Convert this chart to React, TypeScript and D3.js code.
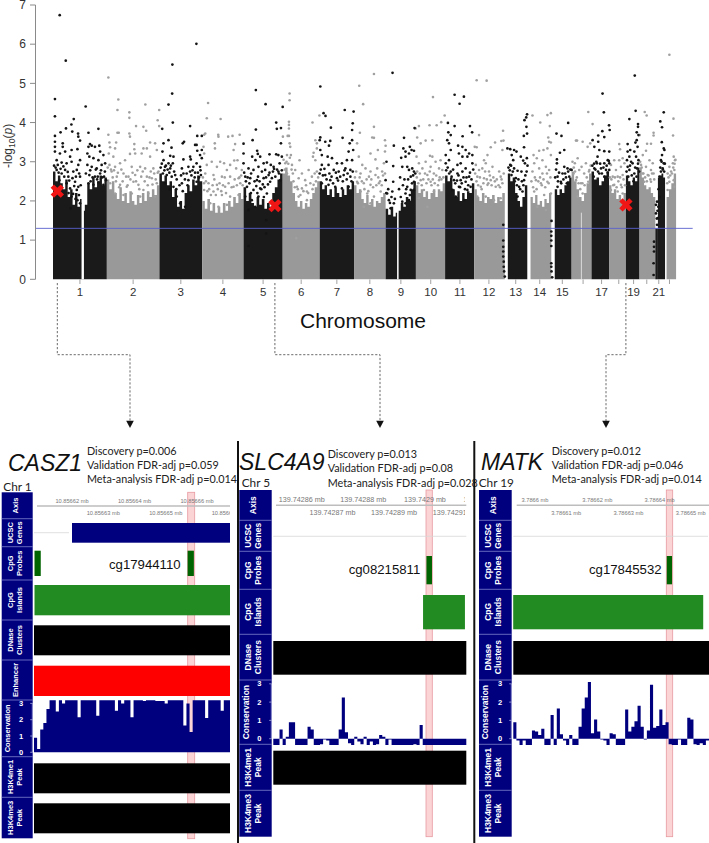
import React from "react";
import * as d3 from "d3";

// ---------- Manhattan data ----------
const chromLabels = ["1","2","3","4","5","6","7","8","9","10","11","12","13","14","15","","17","","19","","21",""];
const chromLengths = [249,243,198,191,181,171,159,146,141,135,135,133,115,107,102,90,81,78,59,63,48,51];
const yTicks = [0,1,2,3,4,5,6,7];
const threshold = 1.3;

// solid part of each chromosome: [start Mb, end Mb, black?]
const solidSpans: [number, number, number][] = [
  [0,249,1],[249,492,0],[492,690,1],[690,881,0],[881,1062,1],[1062,1233,0],[1233,1392,1],[1392,1538,0],
  [1538,1678,1],[1678,1813,0],[1813,1948,1],[1948,2089,0],[2103,2193,1],[2208,2304,0],[2320,2398,1],[2398,2490,0],
  [2490,2571,1],[2571,2649,0],[2649,2712,1],[2712,2785,0],[2797,2830,1],[2837,2881,0],
];
const solidTops: number[][] = [
  [2.75,2.5,2.65,2.45,2.3,2.55,2.1,2.3,1.9,2.2,1.85,2.05,1.75,1.9,2.45,2.3,2.6,2.35,2.5,2.65,2.4,2.6],
  [2.55,2.3,2.5,2.2,2.05,2.35,2.0,2.2,1.95,2.25,2.0,1.9,2.15,1.95,2.2,2.0,2.25,2.1,2.3,2.15,2.4],
  [2.7,2.5,2.65,2.4,2.5,2.1,2.3,1.85,2.0,1.8,2.2,2.4,2.25,2.55,2.4,2.65,2.5],
  [2.0,1.8,2.05,1.75,1.95,1.7,1.85,1.7,1.95,1.75,2.0,1.85,2.1,1.95,2.2,2.05],
  [2.35,2.0,2.2,1.95,1.85,2.1,1.9,2.05,1.8,1.95,1.85,2.2,2.35,2.55,2.7],
  [2.7,2.85,2.65,2.5,2.2,2.0,1.85,2.0,1.8,1.95,1.85,2.05,2.2,2.35,2.5],
  [2.5,2.3,2.4,2.15,2.3,2.1,2.35,2.2,2.1,2.3,2.15,2.4,2.3,2.5],
  [2.4,2.2,2.3,2.05,1.95,2.15,1.9,2.05,1.85,2.0,1.95,2.1,2.2],
  [1.8,1.65,1.85,1.6,1.7,1.75,1.95,1.85,2.1,2.0,2.3,2.5],
  [2.4,2.2,2.3,2.1,2.25,2.05,2.2,2.3,2.1,2.3,2.25,2.45],
  [2.65,2.5,2.6,2.3,2.1,2.25,2.0,2.2,2.05,2.25,2.2,2.45],
  [2.3,2.1,2.0,2.2,1.95,2.1,2.05,2.15,1.95,2.1,2.0,2.2],
  [2.7,2.5,2.6,2.2,2.0,1.85,2.1,2.4],
  [2.1,1.95,2.15,1.9,2.0,1.85,2.05,1.95,2.2],
  [2.3,2.15,2.3,2.2,2.4,2.5,2.6],
  [2.75,2.5,2.3,2.1,2.0,2.2,2.45,2.7],
  [2.75,2.55,2.6,2.4,2.5,2.65,2.75],
  [2.4,2.2,2.3,2.05,2.15,2.0,2.2],
  [2.65,2.5,2.4,2.6,2.5,2.85],
  [2.85,2.6,2.4,2.3,2.35,2.2,2.1],
  [2.6,2.65,2.7,2.6],
  [2.1,2.3,2.45,2.7],
];
// lower speckled stretches of the black chromosomes: [start Mb, end Mb, top]
const sparseBlack: [number, number, number][] = [[2785,2797,1.3]];
// empty stretches through the solid part: [start Mb, end Mb, top]
const gaps: [number, number, number][] = [[132,143,7],[1591,1598,7],[2441,2444,1.7]];

const blackPoints: [number, number][] = [
  [31,6.74],[59,5.58],[9,4.6],[9,4.16],[151,4.41],[164,3.74],[210,3.84],[96,4.09],[85,3.95],[89,3.77],[60,3.85],[35,3.75],[9,3.66],[116,3.72],[117,3.64],[125,3.54],[9,3.51],
  [9,3.38],[9,3.26],[32,3.21],[45,3.47],[45,3.38],[56,3.26],[86,3.3],[113,3.32],[79,3.13],[17,3.04],[40,2.98],[63,2.96],[86,3.0],[117,2.92],[125,3.04],[17,2.79],[40,2.7],[56,2.79],[71,2.62],[94,2.75],[110,2.79],[125,2.62],[29,2.53],[63,2.45],[79,2.32],[102,2.49],[117,2.36],[86,2.11],[113,2.02],[82,1.81],[125,1.94],[110,2.28],
  [164,3.38],[171,3.45],[194,3.38],[179,3.41],[214,3.41],[159,3.21],[218,3.26],[168,3.13],[187,3.09],[233,3.17],[210,3.04],[159,2.92],[179,2.87],[202,2.83],[225,2.92],[241,2.96],[168,2.66],[194,2.62],[218,2.7],[236,2.62],[245,2.53],[164,2.45],[187,2.41],[210,2.47],[233,2.41],
  [663,6.01],[552,5.48],[551,4.74],[534,4.46],[554,4.0],[505,3.84],[634,3.91],[688,3.66],[667,3.66],[657,3.43],[664,3.43],[534,3.55],[511,3.47],[606,3.51],[600,3.47],[548,3.36],[667,3.28],[688,3.3],[506,3.26],[542,3.15],[557,3.13],[634,3.13],[637,3.06],[680,3.17],[511,3.04],[534,2.96],[554,2.96],[603,3.06],[664,2.96],[688,3.09],[518,2.87],[542,2.83],[596,2.83],[626,2.87],[649,2.87],[680,2.87],[508,2.7],[526,2.66],[549,2.62],[565,2.66],[603,2.7],[634,2.75],[657,2.72],[684,2.66],[518,2.45],[557,2.36],[596,2.45],[626,2.53],[664,2.49],[572,2.11],[588,1.94],[611,1.85],
  [938,4.83],[983,4.47],[1062,4.4],[1032,4.0],[1035,3.84],[1054,3.86],[938,3.82],[923,3.55],[1054,3.47],[881,3.46],[944,3.28],[947,3.2],[1001,3.19],[1032,3.19],[1042,3.17],[1058,3.13],[881,3.21],[921,3.13],[936,3.04],[958,3.13],[974,2.96],[989,2.98],[1007,2.92],[1020,2.87],[1048,2.96],[881,2.96],[904,2.83],[927,2.79],[950,2.87],[966,2.75],[981,2.79],[997,2.66],[1017,2.75],[1042,2.75],[889,2.62],[912,2.58],[943,2.53],[974,2.58],[1004,2.49],[1028,2.62],[1051,2.53],[897,2.36],[927,2.28],[958,2.32],[989,2.19],[889,2.11],[919,2.02],[950,2.11],[904,1.77],[935,1.85],[986,1.51],[904,0.85],[986,1.17],
  [1236,4.92],[1251,4.24],[1260,4.17],[1349,4.32],[1390,4.28],[1285,3.87],[1386,3.98],[1383,3.81],[1236,3.62],[1233,3.55],[1339,3.61],[1282,3.53],[1259,3.51],[1372,3.47],[1276,3.41],[1236,3.3],[1383,3.55],[1367,3.26],[1243,3.17],[1270,3.13],[1290,3.09],[1359,3.04],[1336,2.96],[1313,2.96],[1243,2.92],[1274,2.92],[1298,2.79],[1321,2.75],[1352,2.83],[1375,2.79],[1233,2.7],[1259,2.66],[1282,2.53],[1313,2.58],[1344,2.66],[1375,2.62],[1243,2.45],[1274,2.41],[1305,2.36],[1336,2.32],[1367,2.36],[1388,3.3],[1383,3.04],
  [1570,5.27],[1672,3.86],[1623,3.61],[1576,3.41],[1620,3.34],[1650,3.38],[1669,3.28],[1658,3.3],[1630,3.26],[1646,3.21],[1610,3.1],[1630,3.13],[1573,2.89],[1542,3.0],[1615,2.87],[1638,2.87],[1661,2.83],[1669,2.75],[1646,2.79],[1654,2.62],[1538,2.53],[1573,2.49],[1669,2.49],[1638,2.36],[1654,2.28],[1630,2.19],[1669,2.28],[1615,1.98],[1630,1.94],[1646,2.02],[1545,2.19],[1569,2.24],[1553,2.02],[1576,1.94],[1561,1.81],
  [1857,4.71],[1900,4.66],[1880,4.48],[1826,3.99],[1857,3.91],[1928,3.91],[1938,3.75],[1828,3.75],[1839,3.68],[1894,3.65],[1823,3.55],[1831,3.47],[1873,3.41],[1893,3.38],[1908,3.3],[1924,3.21],[1939,3.17],[1839,3.3],[1816,3.17],[1877,3.21],[1893,3.13],[1916,3.13],[1831,3.04],[1816,2.96],[1870,2.92],[1885,2.96],[1939,2.96],[1908,2.83],[1839,2.75],[1870,2.7],[1893,2.75],[1924,2.62],[1854,2.53],[1885,2.53],[1908,2.49],[1847,2.28],[1877,2.36],[1916,2.28],[1931,2.36],[1862,2.11],[1901,2.02],
  [2082,1.39],[2082,0.99],[2082,0.83],[2082,0.71],[2082,0.58],[2084,0.45],[2084,0.32],[2086,0.2],[2089,0.07],
  [2101,3.34],[2114,3.32],[2132,3.3],[2143,3.26],[2121,3.17],[2114,2.92],[2128,3.04],[2192,4.21],[2188,4.13],[2180,4.06],[2189,3.89],[2192,3.72],[2177,3.66],[2178,3.37],[2163,3.13],[2174,3.03],[2191,3.09],[2182,2.96],[2194,2.9],[2148,2.77],[2166,2.75],[2132,2.83],[2120,2.66],[2140,2.58],[2155,2.36],[2178,2.53],[2171,2.24],[2148,2.11],
  [2305,1.49],[2304,1.22],[2304,1.11],[2304,0.99],[2304,0.85],[2304,0.41],[2304,0.32],[2305,0.2],[2308,0.05],
  [2382,3.99],[2328,3.72],[2351,3.66],[2364,3.3],[2344,3.23],[2330,3.06],[2330,2.96],[2379,2.83],[2364,2.87],[2398,2.79],[2356,2.7],[2333,2.62],[2387,2.62],[2348,2.49],[2376,2.45],[2333,2.36],
  [2541,4.74],[2547,4.26],[2571,3.93],[2574,3.81],[2540,3.78],[2521,3.67],[2549,3.63],[2495,3.55],[2521,3.51],[2503,3.38],[2526,3.3],[2549,3.27],[2572,3.26],[2518,3.13],[2565,3.04],[2549,2.96],[2572,2.96],[2515,2.96],[2534,2.83],[2557,2.79],[2503,2.83],[2572,2.79],[2526,2.7],[2549,2.62],[2500,2.62],
  [2690,5.2],[2694,4.3],[2665,4.09],[2705,3.96],[2705,3.89],[2699,3.75],[2707,3.68],[2699,3.55],[2657,3.45],[2693,3.49],[2657,3.26],[2669,3.3],[2703,3.38],[2665,3.13],[2688,3.26],[2654,3.04],[2673,3.0],[2696,3.13],[2707,3.04],[2657,2.87],[2680,2.96],[2700,2.83],[2665,2.79],[2688,2.7],
  [2779,0.96],[2779,0.83],[2779,0.71],[2777,0.41],[2777,0.11],
  [2824,4.26],[2808,4.03],[2816,3.88],[2815,3.5],[2824,3.34],[2827,3.3],[2816,3.17],[2811,3.04],[2824,2.96],[2819,2.83],[2811,2.75],[2804,2.62],[2793,1.98],[2799,1.85],[2788,1.68],[2796,1.56],[2793,1.39],
];
// the busy band just above the solid part of the black chromosomes
const denseBlack: [number, number][] = [
  [5,2.9],[12,2.85],[22,2.92],[26,2.72],[35,2.82],[48,2.88],[52,2.62],[68,2.74],[75,2.52],[90,2.58],[98,2.38],[106,2.62],[121,2.7],[128,2.4],[72,2.2],[93,2.18],[104,2.05],[120,2.15],[152,2.7],[172,2.78],[183,2.6],[198,2.8],[207,2.62],[222,2.78],[228,2.6],[240,2.75],[174,2.5],[204,2.55],
  [498,2.85],[503,2.95],[515,2.78],[522,2.9],[530,2.8],[538,2.72],[545,2.9],[560,2.75],[572,2.55],[585,2.4],[592,2.65],[610,2.55],[618,2.7],[622,2.4],[640,2.65],[645,2.78],[655,2.6],[670,2.72],[675,2.6],[682,2.78],[540,2.3],[570,2.3],[600,2.25],
  [884,2.72],[892,2.5],[900,2.6],[908,2.45],[916,2.7],[932,2.5],[940,2.38],[948,2.62],[955,2.5],[963,2.3],[970,2.42],[978,2.35],[985,2.6],[994,2.42],[1001,2.72],[1012,2.58],[1022,2.82],[1036,2.8],[1045,2.7],[1058,2.78],[915,2.2],[945,2.2],[975,2.1],
  [1238,2.8],[1248,2.65],[1255,2.82],[1265,2.55],[1278,2.7],[1288,2.62],[1295,2.45],[1308,2.72],[1318,2.52],[1328,2.62],[1340,2.5],[1348,2.78],[1358,2.55],[1362,2.7],[1380,2.5],[1386,2.75],
  [1541,2.2],[1550,2.3],[1558,1.95],[1565,2.1],[1581,2.05],[1600,2.3],[1605,2.6],[1608,2.1],[1618,2.4],[1625,2.55],[1633,2.3],[1642,2.55],[1650,2.15],[1660,2.45],[1665,2.65],[1675,2.7],
  [1818,2.78],[1825,2.85],[1832,2.7],[1843,2.62],[1850,2.8],[1860,2.45],[1868,2.52],[1875,2.65],[1882,2.35],[1890,2.45],[1898,2.6],[1905,2.3],[1912,2.6],[1920,2.4],[1928,2.72],[1935,2.55],[1943,2.8],
  [2106,2.85],[2112,2.78],[2118,2.9],[2126,2.75],[2135,2.5],[2145,2.4],[2152,2.55],[2160,2.3],[2168,2.5],[2175,2.4],[2184,2.65],[2190,2.75],
  [2322,2.6],[2326,2.8],[2335,2.5],[2340,2.72],[2350,2.45],[2360,2.55],[2368,2.7],[2372,2.6],[2382,2.75],[2392,2.8],
  [2494,2.9],[2502,2.95],[2508,2.8],[2512,3.0],[2520,2.75],[2530,2.95],[2538,2.7],[2545,2.85],[2553,2.6],[2560,2.9],[2565,2.72],[2570,3.02],
  [2652,2.75],[2660,2.62],[2668,2.9],[2676,2.65],[2684,2.5],[2692,2.85],[2698,2.62],[2705,2.95],[2710,2.75],
  [2788,1.9],[2792,1.55],[2795,1.75],[2800,2.3],[2804,2.1],[2808,2.85],[2814,3.0],[2820,2.8],[2826,2.75],[2829,2.95],
];

const grayPoints: [number, number][] = [
  [256,5.15],[302,4.59],[298,4.32],[353,4.26],[353,4.12],[427,4.46],[491,4.32],[384,3.91],[418,3.89],[431,3.79],[484,4.06],[491,3.91],[256,3.69],[298,3.74],[304,3.74],[353,3.72],[356,3.64],[261,3.49],[292,3.49],[376,3.45],[449,3.49],[472,3.47],[264,3.37],[287,3.34],[376,3.32],[418,3.34],[434,3.34],[480,3.3],[258,3.21],[279,3.13],[356,3.2],[380,3.21],[410,3.21],[449,3.13],[261,2.92],[287,2.87],[310,2.96],[333,3.04],[364,2.87],[403,2.87],[426,2.83],[464,2.83],[488,2.75],[271,2.75],[295,2.62],[326,2.7],[349,2.62],[380,2.66],[434,2.62],[457,2.58],[264,2.45],[310,2.41],[341,2.36],[372,2.49],[395,2.41],[418,2.28],[480,2.45],[287,2.19],[326,2.15],[364,2.19],[403,2.11],[441,2.19],[472,2.11],
  [717,4.5],[711,4.11],[775,4.09],[704,3.72],[699,3.69],[764,3.69],[863,3.69],[765,3.64],[810,3.64],[830,3.66],[748,3.47],[842,3.45],[749,3.34],[696,3.38],[835,3.3],[699,3.21],[734,3.0],[773,3.0],[791,2.96],[819,2.92],[838,3.03],[853,3.04],[711,2.92],[758,2.87],[804,2.79],[847,2.83],[873,2.79],[704,2.7],[742,2.66],[781,2.62],[819,2.62],[858,2.58],[719,2.45],[758,2.41],[796,2.36],[835,2.36],[866,2.45],[699,2.28],[742,2.24],[781,2.15],[819,2.11],[858,2.15],[727,1.94],[765,1.85],[804,1.9],
  [1094,4.74],[1094,4.57],[1091,4.02],[1091,3.94],[1091,3.85],[1200,4.0],[1085,3.66],[1091,3.66],[1063,3.64],[1094,3.47],[1097,3.38],[1082,3.17],[1100,3.17],[1140,3.04],[1205,3.23],[1202,3.13],[1213,3.55],[1220,3.47],[1220,3.34],[1074,2.96],[1105,2.92],[1120,2.79],[1151,2.7],[1182,2.79],[1213,3.04],[1082,2.7],[1109,2.7],[1136,2.58],[1166,2.53],[1197,2.62],[1220,2.75],[1128,2.36],[1151,2.32],[1174,2.24],[1205,2.41],[1136,2.11],[1174,2.02],[1125,1.05],[1232,4.18],
  [1416,4.94],[1434,4.47],[1484,5.24],[1484,3.89],[1419,3.74],[1476,3.62],[1484,3.61],[1535,3.55],[1538,3.41],[1406,3.47],[1468,3.21],[1502,3.3],[1491,3.06],[1535,3.26],[1414,3.13],[1430,2.92],[1445,2.83],[1468,2.75],[1499,2.83],[1530,2.96],[1422,2.7],[1461,2.62],[1491,2.66],[1522,2.75],[1406,2.49],[1437,2.45],[1468,2.41],[1507,2.45],[1422,2.24],[1453,2.19],[1484,2.11],[1515,2.24],[1437,1.85],[1468,1.94],
  [1757,4.65],[1811,4.18],[1795,4.01],[1774,3.93],[1741,3.93],[1692,3.91],[1677,3.85],[1684,3.62],[1754,3.55],[1723,3.54],[1700,3.47],[1681,3.13],[1743,3.15],[1754,3.13],[1692,2.96],[1723,3.0],[1769,3.0],[1792,3.04],[1708,2.83],[1746,2.87],[1785,2.83],[1684,2.75],[1731,2.66],[1761,2.7],[1800,2.79],[1700,2.53],[1746,2.49],[1785,2.53],[1715,2.28],[1761,2.24],[1692,2.07],[1731,1.85],
  [1959,5.08],[2005,5.07],[1970,3.68],[2081,3.79],[2083,3.54],[2073,3.53],[2044,3.49],[2024,3.37],[1959,3.37],[1950,3.38],[2078,3.3],[2009,3.17],[1993,3.04],[1955,2.92],[2001,2.96],[2032,2.87],[2063,2.75],[1970,2.79],[1985,2.83],[2016,2.75],[1962,2.62],[1993,2.58],[2024,2.53],[2070,2.62],[1978,2.36],[2009,2.41],[2047,2.36],[2078,2.45],[1962,2.11],[2001,2.11],[2039,2.02],[2070,2.07],
  [2217,4.18],[2286,4.19],[2302,4.24],[2253,4.0],[2297,3.91],[2290,3.62],[2294,3.51],[2302,3.49],[2222,3.17],[2248,3.28],[2268,3.3],[2237,3.09],[2286,3.34],[2263,3.04],[2302,3.17],[2225,2.96],[2248,2.83],[2279,2.87],[2217,2.75],[2263,2.7],[2294,2.79],[2233,2.53],[2256,2.45],[2286,2.49],[2225,2.24],[2271,2.15],[2302,2.19],[2240,1.85],[2279,1.77],
  [2475,4.27],[2495,3.96],[2449,3.51],[2418,3.54],[2423,3.54],[2484,3.47],[2472,3.38],[2426,3.09],[2413,2.96],[2444,2.87],[2464,2.96],[2480,2.79],[2407,2.7],[2433,2.79],[2456,2.7],[2418,2.53],[2441,2.45],[2475,2.49],[2449,2.19],[2426,2.11],
  [2618,3.45],[2622,3.32],[2595,3.04],[2618,3.04],[2634,3.09],[2580,2.92],[2603,2.79],[2626,2.87],[2642,2.96],[2588,2.62],[2611,2.62],[2634,2.66],[2595,2.41],[2626,2.41],[2580,2.28],[2611,2.24],[2634,2.19],
  [2736,4.27],[2745,4.18],[2777,3.74],[2777,3.67],[2713,3.68],[2747,3.46],[2765,3.46],[2742,3.28],[2727,3.17],[2758,3.04],[2773,2.96],[2719,2.92],[2742,2.87],[2765,2.79],[2727,2.7],[2750,2.66],[2777,2.7],[2734,2.49],[2765,2.49],
  [2850,5.73],[2869,4.1],[2867,3.67],[2870,3.13],[2876,3.04],[2850,2.87],[2866,2.96],[2842,2.7],[2858,2.75],[2873,2.79],[2850,2.49],[2870,2.53],[2842,2.28],[2873,2.36],
];
// the busy band just above the solid part of the grey chromosomes
const denseGray: [number, number][] = [
  [253,2.85],[268,2.8],[276,2.6],[282,2.78],[291,2.5],[300,2.72],[306,2.35],[316,2.8],[322,2.5],[338,2.62],[345,2.4],[358,2.55],[368,2.72],[384,2.5],[390,2.78],[399,2.3],[408,2.62],[415,2.75],[424,2.5],[438,2.4],[446,2.6],[452,2.75],[460,2.42],[468,2.7],[475,2.55],[484,2.72],
  [693,2.6],[698,2.45],[707,2.5],[714,2.25],[722,2.3],[730,2.15],[738,2.4],[746,2.55],[753,2.15],[762,2.3],[770,2.45],[778,2.25],[786,2.4],[794,2.6],[800,2.2],[812,2.45],[826,2.35],[840,2.55],[850,2.4],[862,2.6],[870,2.65],[877,2.4],
  [1066,3.05],[1072,2.8],[1080,3.0],[1088,2.95],[1095,3.1],[1103,2.8],[1112,2.5],[1118,2.35],[1132,2.3],[1144,2.15],[1158,2.25],[1170,2.4],[1180,2.2],[1190,2.45],[1200,2.3],[1210,2.7],[1216,2.5],[1226,2.6],
  [1396,2.6],[1402,2.75],[1410,2.45],[1418,2.6],[1428,2.5],[1440,2.3],[1450,2.55],[1458,2.25],[1472,2.55],[1480,2.35],[1495,2.4],[1504,2.6],[1512,2.5],[1520,2.4],[1526,2.65],[1535,2.7],
  [1682,2.6],[1689,2.45],[1696,2.7],[1705,2.4],[1712,2.55],[1720,2.7],[1727,2.45],[1736,2.55],[1742,2.75],[1750,2.4],[1756,2.55],[1765,2.45],[1772,2.65],[1780,2.4],[1788,2.6],[1796,2.55],[1805,2.6],
  [1952,2.7],[1958,2.5],[1966,2.4],[1974,2.6],[1982,2.3],[1990,2.45],[1998,2.75],[2006,2.55],[2013,2.45],[2020,2.65],[2028,2.4],[2036,2.6],[2043,2.5],[2052,2.55],[2060,2.4],[2067,2.35],[2074,2.55],[2084,2.7],
  [2212,2.5],[2220,2.35],[2228,2.6],[2236,2.3],[2244,2.5],[2252,2.6],[2260,2.4],[2268,2.55],[2276,2.35],[2284,2.7],[2292,2.45],[2300,2.6],
  [2402,3.0],[2408,2.85],[2414,2.75],[2422,2.6],[2430,2.45],[2438,2.3],[2448,2.45],[2458,2.4],[2468,2.6],[2478,2.75],[2486,2.9],
  [2575,2.6],[2582,2.55],[2590,2.4],[2598,2.6],[2606,2.35],[2614,2.5],[2622,2.6],[2630,2.35],[2638,2.55],[2645,2.4],
  [2715,3.0],[2722,2.85],[2730,2.7],[2738,2.6],[2746,2.5],[2754,2.65],[2762,2.55],[2770,2.7],[2780,2.55],
  [2840,2.45],[2846,2.6],[2854,2.65],[2862,2.7],[2868,2.85],[2874,2.95],[2878,3.05],
];
// selected CpGs: [genome Mb, -log10 p]
const highlighted: [number, number][] = [[20,2.25],[1026,1.88],[2649,1.9]];

// ---------- Browser-panel data ----------
const rowNames1 = [["Axis"],["UCSC","Genes"],["CpG","Probes"],["CpG","Islands"],["DNase","Clusters"],["Enhancer"],["Conservation"],["H3K4me1","Peak"],["H3K4me3","Peak"]];
const rowNames2 = [["Axis"],["UCSC","Genes"],["CpG","Probes"],["CpG","Islands"],["DNase","Clusters"],["Conservation"],["H3K4me1","Peak"],["H3K4me3","Peak"]];

const pvals1 = ["Discovery p=0.006","Validation FDR-adj p=0.059","Meta-analysis FDR-adj p=0.014"];
const pvals2 = ["Discovery p=0.013","Validation FDR-adj p=0.08","Meta-analysis FDR-adj p=0.028"];
const pvals3 = ["Discovery p=0.012","Validation FDR-adj p=0.046","Meta-analysis FDR-adj p=0.014"];

const cons1 = [0.9,0.2,1.4,1.8,2.65,3.2,3.2,2.5,3.2,3.0,3.2,3.2,3.2,3.2,2.15,3.2,3.2,3.2,3.2,3.2,2.25,3.2,3.2,3.2,3.2,3.2,2.55,3.2,3.0,3.2,3.2,2.15,3.2,3.2,3.2,3.15,3.2,3.2,3.2,3.15,3.15,3.15,3.0,3.2,3.2,3.2,3.2,3.2,1.65,3.0,1.25,3.2,3.2,3.2,3.2,2.1,3.2,3.2,3.2,3.2,2.55,3.2,3.2];
const cons2 = [-0.35,-0.35,0.5,-0.35,0.1,0.9,0.9,-0.35,-0.35,-0.35,-0.35,0.65,0.5,-0.35,-0.35,-0.3,-0.03,-0.1,-0.35,-0.35,-0.35,0.5,2.25,0.35,-0.25,-0.35,0.1,-0.15,-0.3,0.1,-0.35,-0.15,-0.35,-0.3,0.2,0.1,-0.35,0,-0.35,-0.35,-0.35,-0.35,-0.35,-0.35,-0.35,-0.3,-0.35,0.75,-0.35,-0.35,-0.35,-0.35,-0.35,-0.35,-0.35,-0.35,-0.35,-0.35,-0.35,-0.35,-0.35,-0.35];
const cons3 = [0.9,-0.1,-0.35,-0.1,-0.35,-0.35,0.45,0.4,0.2,0.55,-0.35,-0.35,1.3,-0.35,1.65,0.25,-0.1,-0.35,0.2,-0.35,-0.35,0.65,1.65,2.25,3.1,0.3,1.05,0.4,-0.03,-0.1,-0.35,0.3,0.25,-0.35,-0.35,-0.35,1.6,0.4,0.65,0.95,1.8,0.65,-0.03,0.45,2.95,0.6,0.7,1.6,0.75,0.9,-0.3,-0.35,-0.35,-0.05,-0.35,-0.35,1.15,1.05,-0.3,-0.35,-0.25,-0.35,-0.1];

const upper1 = [10.85662,10.85664,10.85666];
const lower1 = [10.85663,10.85665,10.85667];
const upper2 = [139.74286,139.74288,139.7429,139.74292];
const lower2 = [139.74287,139.74289,139.74291];
const upper3 = [3.7866,3.78662,3.78664];
const lower3 = [3.78661,3.78663,3.78665];

const NAVY = "#00007f";
const SANS = "'Liberation Sans', Arial, sans-serif";
const CAL = "Lato, 'Open Sans', sans-serif";
const dimText = "#777";

type Panel = {
  id: string; gene: string; chr: string; pvals: string[]; probeId: string;
  names: string[][]; rowEdges: number[]; boxX: [number, number];
  mbDomain: [number, number]; mbRange: [number, number]; x0: number; x1: number;
  axisStart: number; axisY: number; upper: number[]; lower: number[]; upperY: number; lowerY: number; tickFont: number; tickClipEnd: number;
  geneSpan: [number, number] | null; geneLineEnd: number; geneY: [number, number]; lineY: number;
  probes: [number, number][]; probeY: [number, number]; probeLabel: [number, number];
  island: [number, number]; islandY: [number, number];
  blacks: [number, number][]; enhancerY: [number, number] | null;
  cons: number[]; consY0: number; consUnit: number;
  highlight: [number, number, number, number];
  titleX: number; titleY: number; pvalX: number; pvalY: number[]; chrX: number; chrY: number;
  rowFont: number; lineGap: number; consLabelX: number; digitX: number;
};

const panels: Panel[] = [
  {
    id: "a", gene: "CASZ1", chr: "Chr 1", pvals: pvals1, probeId: "cg17944110", names: rowNames1,
    rowEdges: [492.3,518.7,546.7,580,620,660,700,756.7,797.3,838.3], boxX: [1.7,32.7],
    mbDomain: [10.85662,10.85666], mbRange: [72,197], x0: 34, x1: 230, axisStart: 37, axisY: 506,
    upper: upper1, lower: lower1, upperY: 503, lowerY: 515, tickFont: 5.7, tickClipEnd: 230,
    geneSpan: [10.85662,10.856671], geneLineEnd: 69, geneY: [523,542.7], lineY: 532.7,
    probes: [[10.856608,10.85661],[10.856657,10.856659]], probeY: [550.7,576], probeLabel: [109,569.3],
    island: [10.856608,10.856671], islandY: [585,615.3],
    blacks: [[625.3,655.3],[763.3,793.3],[803.3,833.3]], enhancerY: [665.7,696],
    cons: cons1, consY0: 752.3, consUnit: 16.3, highlight: [187.7,194.7,492.3,838.7],
    titleX: 8, titleY: 470.7, pvalX: 87, pvalY: [455,469.3,483.3], chrX: 3.3, chrY: 490.7,
    rowFont: 7.5, lineGap: 9.5, consLabelX: 7.7, digitX: 21,
  },
  {
    id: "b", gene: "SLC4A9", chr: "Chr 5", pvals: pvals2, probeId: "cg08215811", names: rowNames2,
    rowEdges: [490,520.3,551.3,589.3,634.3,680,744.3,790.3,836.7], boxX: [239.3,271.7],
    mbDomain: [139.74286,139.74288], mbRange: [301.7,363.3], x0: 273.3, x1: 466.3, axisStart: 276, axisY: 505.3,
    upper: upper2, lower: lower2, upperY: 502, lowerY: 515, tickFont: 7.2, tickClipEnd: 465,
    geneSpan: null, geneLineEnd: 466.3, geneY: [0,0], lineY: 536.3,
    probes: [[139.7429005,139.7429023]], probeY: [556,584.3], probeLabel: [348.7,574],
    island: [139.7428994,139.742913], islandY: [595,629.3],
    blacks: [[641,674.7],[750.7,784.7]], enhancerY: null,
    cons: cons2, consY0: 738.7, consUnit: 18.3, highlight: [426,432.3,490,836.7],
    titleX: 239, titleY: 470, pvalX: 327.7, pvalY: [458.3,472.3,486.7], chrX: 241.7, chrY: 486.7,
    rowFont: 8.5, lineGap: 10.4, consLabelX: 245.7, digitX: 259.3,
  },
  {
    id: "c", gene: "MATK", chr: "Chr 19", pvals: pvals3, probeId: "cg17845532", names: rowNames2,
    rowEdges: [490,520.3,551.3,589.3,634.3,680,744.3,790.3,836.7], boxX: [479,511.7],
    mbDomain: [3.7866,3.78662], mbRange: [535,597.3], x0: 513.3, x1: 709, axisStart: 516.7, axisY: 505.3,
    upper: upper3, lower: lower3, upperY: 502, lowerY: 515, tickFont: 5.7, tickClipEnd: 709,
    geneSpan: null, geneLineEnd: 708, geneY: [0,0], lineY: 536.3,
    probes: [[3.7866423,3.786644]], probeY: [556,584.3], probeLabel: [589,574],
    island: [3.786593,3.786654], islandY: [595,629.3],
    blacks: [[641,674.7]], enhancerY: null,
    cons: cons3, consY0: 738.7, consUnit: 18.3, highlight: [666.3,672.7,490,836.7],
    titleX: 481, titleY: 470, pvalX: 551.7, pvalY: [455,469,483], chrX: 478.7, chrY: 486.7,
    rowFont: 8.5, lineGap: 10.4, consLabelX: 485.3, digitX: 500,
  },
];

// ---------- Manhattan ----------
const genomeTotal = d3.sum(chromLengths);
const xG = d3.scaleLinear().domain([0, genomeTotal]).range([53, 675]);
const yG = d3.scaleLinear().domain([0, 7]).range([279.3, 5]);
const starts = d3.cumsum([0, ...chromLengths]);

function Manhattan() {
  const area = d3.area<[number, number]>().x((d) => xG(d[0])).y0(yG(0)).y1((d) => yG(d[1])).curve(d3.curveStepAfter);
  return (
    <g>
      {solidSpans.map(([a, b, black], i) => {
        const tops = solidTops[i];
        const pos = d3.scaleLinear().domain([0, tops.length]).range([a, b]);
        const pts: [number, number][] = tops.map((v, k) => [pos(k), v]);
        pts.push([b, tops[tops.length - 1]]);
        return <path key={i} d={area(pts) || ""} fill={black ? "#1a1a1a" : "#999999"} />;
      })}
      {sparseBlack.map(([a, b, t], i) => (
        <rect key={i} x={xG(a)} width={xG(b) - xG(a)} y={yG(t)} height={yG(0) - yG(t)} fill="#1a1a1a" />
      ))}
      {gaps.map(([a, b, t], i) => (
        <rect key={i} x={xG(a)} width={xG(b) - xG(a)} y={yG(t)} height={yG(0) - yG(t)} fill="#fff" />
      ))}
      {[...grayPoints, ...denseGray].map(([p, v], i) => <circle key={i} cx={xG(p)} cy={yG(v)} r={1.3} fill="#a0a0a0" />)}
      {[...blackPoints, ...denseBlack].map(([p, v], i) => <circle key={i} cx={xG(p)} cy={yG(v)} r={1.35} fill="#141414" />)}
      <line x1={35.5} x2={692.7} y1={yG(threshold)} y2={yG(threshold)} stroke="#5a5fcf" strokeWidth={0.9} />
      {/* y axis */}
      <line x1={35.5} x2={35.5} y1={yG(7)} y2={yG(0)} stroke="#8a8a8a" />
      {yTicks.map((t) => (
        <g key={t}>
          <line x1={30} x2={35.5} y1={yG(t)} y2={yG(t)} stroke="#8a8a8a" />
          <text x={26} y={yG(t) + 4.2} textAnchor="end" fontSize={12} fontFamily={SANS} fill="#333">{t}</text>
        </g>
      ))}
      <text transform="translate(12,168) rotate(-90)" fontSize={12} fontFamily={SANS} fill="#333">
        -log<tspan fontSize={8.5} dy={3}>10</tspan><tspan dy={-3}>(</tspan><tspan fontStyle="italic">p</tspan>)
      </text>
      {/* x axis ticks */}
      {chromLengths.map((len, i) => {
        const mid = xG(starts[i] + len / 2);
        return (
          <g key={i}>
            <line x1={mid} x2={mid} y1={279.5} y2={284} stroke="#8a8a8a" strokeWidth={0.8} />
            {chromLabels[i] && (
              <text x={mid} y={296} textAnchor="middle" fontSize={11.5} fontFamily={SANS} fill="#333">{chromLabels[i]}</text>
            )}
          </g>
        );
      })}
      <text x={300} y={328} fontSize={21} fontFamily={SANS} fill="#111">Chromosome</text>
      {highlighted.map(([p, v], i) => {
        const sym = d3.symbol(d3.symbolCross, 112)();
        return <path key={i} d={sym || ""} transform={`translate(${xG(p)},${yG(v)}) rotate(45)`} fill="#f01616" />;
      })}
    </g>
  );
}

function Connectors() {
  const routes = highlighted.map(([p]) => xG(p));
  const arrowX = [130, 380, 606];
  return (
    <g>
      {routes.map((x, i) => (
        <g key={i}>
          <path d={`M${x},283V354.7H${arrowX[i]}V421`} fill="none" stroke="#444" strokeWidth={0.8} strokeDasharray="2.2 1.8" />
          <path d={`M${arrowX[i] - 3.8},420.7H${arrowX[i] + 3.8}L${arrowX[i]},428Z`} fill="#111" />
        </g>
      ))}
    </g>
  );
}

function BrowserPanel({ p }: { p: Panel }) {
  const xM = d3.scaleLinear().domain(p.mbDomain).range(p.mbRange);
  const yC = d3.scaleLinear().domain([0, 3]).range([p.consY0, p.consY0 - 3 * p.consUnit]);
  const bin = d3.scaleLinear().domain([0, p.cons.length]).range([p.x0, p.x1]);
  const consArea = d3.area<[number, number]>()
    .x((d) => bin(d[0]))
    .y0((d) => Math.max(yC(Math.min(d[1], 0)), yC(Math.max(d[1], 0)) + 0.7))
    .y1((d) => yC(Math.max(d[1], 0)))
    .curve(d3.curveStepAfter);
  const consPts: [number, number][] = p.cons.map((v, i) => [i, v]);
  consPts.push([p.cons.length, p.cons[p.cons.length - 1]]);
  const boxCx = (p.boxX[0] + p.boxX[1]) / 2;
  const [hx0, hx1, hy0, hy1] = p.highlight;
  const consIdx = p.names.findIndex((n) => n[0] === "Conservation");
  const clipId = `clip-${p.id}`;
  return (
    <g>
      <clipPath id={clipId}><rect x={p.x0} y={490} width={p.tickClipEnd - p.x0} height={30} /></clipPath>
      {/* title */}
      <text x={p.titleX} y={p.titleY} fontSize={23} fontStyle="italic" fontFamily={SANS} fill="#111">{p.gene}</text>
      {p.pvals.map((t, i) => (
        <text key={i} x={p.pvalX} y={p.pvalY[i]} fontSize={10.8} fontFamily={CAL} fill="#222">{t}</text>
      ))}
      <text x={p.chrX} y={p.chrY} fontSize={11.8} fontFamily={CAL} fill="#222">{p.chr}</text>
      {/* label column */}
      <rect x={p.boxX[0]} y={p.rowEdges[0]} width={p.boxX[1] - p.boxX[0]} height={p.rowEdges[p.rowEdges.length - 1] - p.rowEdges[0]} fill={NAVY} />
      {p.rowEdges.slice(1, -1).map((y, i) => (
        <line key={i} x1={p.boxX[0]} x2={p.boxX[1]} y1={y} y2={y} stroke="#8f94d8" strokeWidth={0.7} />
      ))}
      {p.names.map((lines, i) => {
        const cy = (p.rowEdges[i] + p.rowEdges[i + 1]) / 2;
        const isCons = i === consIdx;
        const cx = isCons ? p.consLabelX : boxCx - 2.3;
        return lines.map((line, k) => {
          const lx = cx + (k - (lines.length - 1) / 2) * p.lineGap;
          return (
            <text key={`${i}-${k}`} transform={`translate(${lx + p.rowFont * 0.36},${cy}) rotate(-90)`} textAnchor="middle" fontSize={p.rowFont} fontWeight="bold" fontFamily={SANS} fill="#fff">{line}</text>
          );
        });
      })}
      {[0, 1, 2, 3].map((t) => (
        <g key={t}>
          <text x={p.digitX} y={yC(t) + 2.6} textAnchor="middle" fontSize={7.5} fontWeight="bold" fontFamily={SANS} fill="#fff">{t}</text>
          <line x1={p.boxX[1] - 2.5} x2={p.boxX[1]} y1={yC(t)} y2={yC(t)} stroke="#b9bce8" strokeWidth={0.7} />
        </g>
      ))}
      <line x1={p.boxX[1] - 0.4} x2={p.boxX[1] - 0.4} y1={yC(3)} y2={yC(0)} stroke="#b9bce8" strokeWidth={0.7} />
      {/* highlight under the tracks */}
      <rect x={hx0} y={hy0} width={hx1 - hx0} height={hy1 - hy0} fill="#fbd4d6" stroke="#e79aa0" strokeWidth={0.8} />
      {/* axis track */}
      <line x1={p.axisStart} x2={p.x1} y1={p.axisY} y2={p.axisY} stroke="#bdbdbd" strokeWidth={1.6} />
      <g clipPath={`url(#${clipId})`}>
        {p.upper.map((v) => (
          <text key={v} x={xM(v)} y={p.upperY} textAnchor="middle" fontSize={p.tickFont} fontFamily={SANS} fill={dimText}>{`${v} mb`}</text>
        ))}
        {p.lower.map((v) => (
          <text key={v} x={xM(v)} y={p.lowerY} textAnchor="middle" fontSize={p.tickFont} fontFamily={SANS} fill={dimText}>{`${v} mb`}</text>
        ))}
      </g>
      {/* genes */}
      <line x1={p.x0} x2={p.geneLineEnd} y1={p.lineY} y2={p.lineY} stroke="#d8d8d8" strokeWidth={0.8} />
      {p.geneSpan && (
        <rect x={xM(p.geneSpan[0])} width={p.x1 - xM(p.geneSpan[0])} y={p.geneY[0]} height={p.geneY[1] - p.geneY[0]} fill={NAVY} />
      )}
      {/* probes */}
      {p.probes.map(([a, b], i) => (
        <rect key={i} x={xM(a)} width={xM(b) - xM(a)} y={p.probeY[0]} height={p.probeY[1] - p.probeY[0]} fill="#006400" />
      ))}
      <text x={p.probeLabel[0]} y={p.probeLabel[1]} fontSize={13.2} fontFamily={SANS} fill="#111">{p.probeId}</text>
      {/* islands */}
      <rect x={xM(p.island[0])} width={Math.min(xM(p.island[1]), p.x1) - xM(p.island[0])} y={p.islandY[0]} height={p.islandY[1] - p.islandY[0]} fill="#228b22" />
      {/* peak tracks */}
      {p.blacks.map(([a, b], i) => (
        <rect key={i} x={p.x0} width={p.x1 - p.x0} y={a} height={b - a} fill="#000" />
      ))}
      {p.enhancerY && (
        <rect x={p.x0} width={p.x1 - p.x0} y={p.enhancerY[0]} height={p.enhancerY[1] - p.enhancerY[0]} fill="#ff0000" />
      )}
      {/* conservation */}
      <path d={consArea(consPts) || ""} fill={NAVY} />
    </g>
  );
}

export default function App() {
  return (
    <svg width={709} height={843} viewBox="0 0 709 843" style={{ position: "absolute", left: 0, top: 0, background: "#fff", display: "block" }}>
      <Manhattan />
      <Connectors />
      {panels.map((p) => <BrowserPanel key={p.id} p={p} />)}
      <line x1={238} x2={238} y1={441} y2={843} stroke="#111" strokeWidth={2} />
      <line x1={474.3} x2={474.3} y1={441} y2={843} stroke="#111" strokeWidth={2} />
    </svg>
  );
}
